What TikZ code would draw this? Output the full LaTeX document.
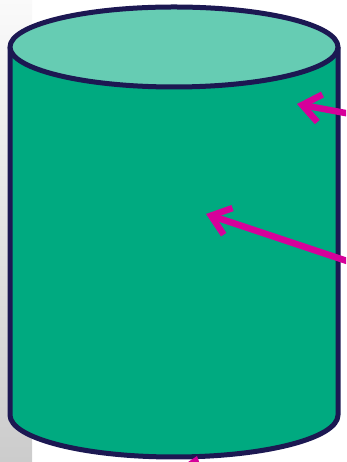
\documentclass[tikz,border=0pt]{standalone}
\usepackage{tikz}
\usetikzlibrary{arrows.meta, calc}
\definecolor{drumbody}{RGB}{0,170,128}
\definecolor{drumtop}{RGB}{102,204,179}
\definecolor{drumline}{RGB}{28,24,82}
\definecolor{pointer}{RGB}{214,0,154}
\tikzset{
	outline/.style={draw=drumline, line width=5pt, line join=round},
	arr/.style={draw=pointer, line width=6.5pt, line cap=round, line join=round, -{Straight Barb[length=18pt, width=28pt]}}
}

\begin{document}
\begin{tikzpicture}[x=1pt, y=1pt]
        \useasboundingbox (0,0) rectangle (346,462);
        \clip (0,0) rectangle (346,462);
        \shade[top color=gray!4, bottom color=gray!40] (0,0) rectangle (32,462);

        % drum
        \coordinate (topc) at (174,415);
        \coordinate (botc) at (174,47);
        \fill[drumbody] (10,415) -- (10,47) arc[start angle=180, end angle=360, x radius=164, y radius=42] -- (338,415) -- cycle;
        \draw[outline] (10,415) -- (10,47) arc[start angle=180, end angle=360, x radius=164, y radius=42] -- (338,415);
        \draw[outline, fill=drumtop] (topc) ellipse[x radius=164, y radius=40];

        % pointers
        \coordinate (lid-tip) at (297,358);
        \coordinate (lid-tail) at (356,347);
        \coordinate (side-tip) at (206,248);
        \coordinate (side-tail) at (356,198);
        \coordinate (base-tip) at (197,6);
        \coordinate (base-tail) at (182,-40);

        \draw[arr] (lid-tail) -- (lid-tip);
        \draw[arr] (side-tail) -- (side-tip);
        \draw[arr] (base-tail) -- (base-tip);
    \end{tikzpicture}
\end{document}
